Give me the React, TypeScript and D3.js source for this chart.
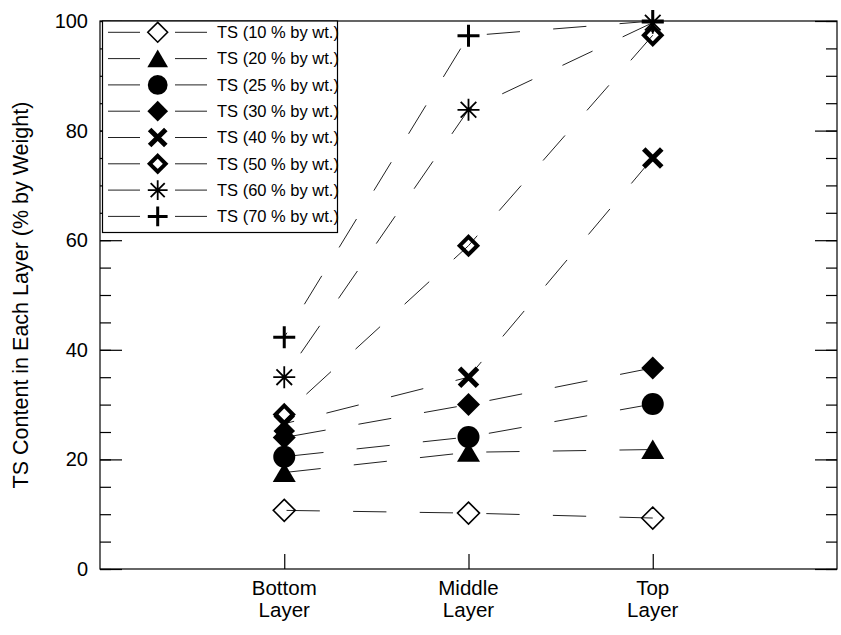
import * as d3 from "d3"
import { useRef, useEffect } from "react"

// layers on the x axis (positions 1..3)
const layers = ["Bottom", "Middle", "Top"]
const layerSub = ["Layer", "Layer", "Layer"]

const seriesNames = [
  "TS (10 % by wt.)",
  "TS (20 % by wt.)",
  "TS (25 % by wt.)",
  "TS (30 % by wt.)",
  "TS (40 % by wt.)",
  "TS (50 % by wt.)",
  "TS (60 % by wt.)",
  "TS (70 % by wt.)",
]
const markers = ["diamondOpen", "triangle", "circle", "diamondFilled", "x", "diamondBold", "star", "plus"]

// values: bottom, middle, top
const ts10 = [10.7, 10.2, 9.3]
const ts20 = [17.6, 21.3, 21.8]
const ts25 = [20.5, 24.1, 30.1]
const ts30 = [24.0, 30.0, 36.7]
const ts40 = [26.5, 35.0, 75.0]
const ts50 = [28.2, 59.0, 97.4]
const ts60 = [35.0, 83.8, 99.7]
const ts70 = [42.3, 97.3, 100]
const allSeries = [ts10, ts20, ts25, ts30, ts40, ts50, ts60, ts70]

const yMajor = [0, 20, 40, 60, 80, 100]
const yMinor = d3.range(0, 101, 5)

const font = "'Liberation Sans', Arial, Helvetica, sans-serif"

function drawMarker(g: any, type: string, s = 1) {
  if (type === "diamondOpen") {
    g.append("path").attr("d", `M0,${-11 * s}L${11 * s},0L0,${11 * s}L${-11 * s},0Z`)
      .attr("fill", "none").attr("stroke", "#000").attr("stroke-width", 1.6)
  } else if (type === "triangle") {
    g.append("path").attr("d", `M0,${-10 * s}L${11.5 * s},${9.5 * s}L${-11.5 * s},${9.5 * s}Z`).attr("fill", "#000")
  } else if (type === "circle") {
    g.append("circle").attr("r", 11 * s).attr("fill", "#000")
  } else if (type === "diamondFilled") {
    g.append("path").attr("d", `M0,${-11.5 * s}L${11.5 * s},0L0,${11.5 * s}L${-11.5 * s},0Z`).attr("fill", "#000")
  } else if (type === "x") {
    const a = 9 * s
    g.append("path").attr("d", `M${-a},${-a}L${a},${a}M${-a},${a}L${a},${-a}`)
      .attr("stroke", "#000").attr("stroke-width", 5)
  } else if (type === "diamondBold") {
    const a = 8.8 * s
    g.append("path").attr("d", `M0,${-a}L${a},0L0,${a}L${-a},0Z`)
      .attr("fill", "none").attr("stroke", "#000").attr("stroke-width", 4)
  } else if (type === "star") {
    const a = 11 * s, b = 7.8 * s
    g.append("path").attr("d", `M0,${-a}V${a}M${-a},0H${a}M${-b},${-b}L${b},${b}M${-b},${b}L${b},${-b}`)
      .attr("stroke", "#000").attr("stroke-width", 1.8)
  } else if (type === "plus") {
    const a = 11 * s
    g.append("path").attr("d", `M0,${-a}V${a}M${-a},0H${a}`)
      .attr("stroke", "#000").attr("stroke-width", 3)
  }
}

export default function App() {
  const ref = useRef<SVGSVGElement>(null)

  useEffect(() => {
    const width = 841
    const height = 635
    const left = 100, right = 837, top = 21, bottom = 569

    const x = d3.scaleLinear().domain([0, 4]).range([left, right])
    const y = d3.scaleLinear().domain([0, 100]).range([bottom, top])

    const svg = d3.select(ref.current)
    svg.selectAll("*").remove()
    svg.attr("width", width).attr("height", height)

    // frame
    svg.append("rect")
      .attr("x", left).attr("y", top)
      .attr("width", right - left).attr("height", bottom - top)
      .attr("fill", "none").attr("stroke", "#000").attr("stroke-width", 1.2)

    // ticks pointing inward on both sides
    const tickAxes = [
      { axis: d3.axisRight(y).tickValues(yMinor).tickSize(11), tx: left },
      { axis: d3.axisRight(y).tickValues(yMajor).tickSize(22), tx: left },
      { axis: d3.axisLeft(y).tickValues(yMinor).tickSize(11), tx: right },
      { axis: d3.axisLeft(y).tickValues(yMajor).tickSize(22), tx: right },
    ]
    tickAxes.forEach(({ axis, tx }) => {
      const g = svg.append("g").attr("transform", `translate(${tx},0)`)
        .call(axis.tickFormat(() => ""))
      g.select(".domain").remove()
      g.selectAll("line").attr("stroke", "#000").attr("stroke-width", 1.2)
    })

    // y labels
    const yl = svg.append("g").attr("transform", `translate(${left},0)`)
      .call(d3.axisLeft(y).tickValues(yMajor).tickSize(0).tickPadding(12).tickFormat(d3.format("d")))
    yl.select(".domain").remove()
    yl.selectAll("text").attr("font-family", font).attr("font-size", 20).attr("fill", "#000")

    // bottom ticks
    const xb = svg.append("g").attr("transform", `translate(0,${bottom})`)
      .call(d3.axisTop(x).tickValues([1, 2, 3]).tickSize(15).tickFormat(() => ""))
    xb.select(".domain").remove()
    xb.selectAll("line").attr("stroke", "#000").attr("stroke-width", 1.2)

    // category labels
    layers.forEach((name, i) => {
      const t = svg.append("text")
        .attr("font-family", font).attr("font-size", 20.5)
        .attr("text-anchor", "middle").attr("fill", "#000")
      t.append("tspan").attr("x", x(i + 1)).attr("y", 595).text(name)
      t.append("tspan").attr("x", x(i + 1)).attr("y", 617).text(layerSub[i])
    })

    // y title
    svg.append("text")
      .attr("transform", `translate(28,${(top + bottom) / 2}) rotate(-90)`)
      .attr("text-anchor", "middle")
      .attr("font-family", font).attr("font-size", 21.5).attr("fill", "#000")
      .text("TS Content in Each Layer (% by Weight)")

    // dashed lines, drawn from top layer down so the dash phase matches
    const line = d3.line<[number, number]>().x(d => x(d[0])).y(d => y(d[1]))
    allSeries.forEach(vals => {
      const pts: [number, number][] = vals.map((v, i) => [i + 1, v] as [number, number]).reverse()
      svg.append("path").attr("d", line(pts))
        .attr("fill", "none").attr("stroke", "#222").attr("stroke-width", 1)
        .attr("stroke-dasharray", "33.3 33.3")
    })

    // markers
    allSeries.forEach((vals, si) => {
      vals.forEach((v, i) => {
        const g = svg.append("g").attr("transform", `translate(${x(i + 1)},${y(v)})`)
        drawMarker(g, markers[si])
      })
    })

    // legend
    const lg = svg.append("g")
    lg.append("rect").attr("x", 102.5).attr("y", top).attr("width", 235).attr("height", 211.5)
      .attr("fill", "#fff").attr("stroke", "#000").attr("stroke-width", 1.2)
    seriesNames.forEach((name, i) => {
      const ry = 32.3 + i * 26.3
      lg.append("line").attr("x1", 108).attr("x2", 140).attr("y1", ry).attr("y2", ry)
        .attr("stroke", "#222").attr("stroke-width", 1)
      lg.append("line").attr("x1", 175).attr("x2", 207).attr("y1", ry).attr("y2", ry)
        .attr("stroke", "#222").attr("stroke-width", 1)
      drawMarker(lg.append("g").attr("transform", `translate(157.7,${ry})`), markers[i], 0.9)
      lg.append("text").attr("x", 217).attr("y", ry).attr("dy", "0.35em")
        .attr("font-family", font).attr("font-size", 16.5).attr("fill", "#000")
        .text(name)
    })
  }, [])

  return (
    <div style={{ position: "absolute", left: 0, top: 0 }}>
      <svg ref={ref}></svg>
    </div>
  )
}
